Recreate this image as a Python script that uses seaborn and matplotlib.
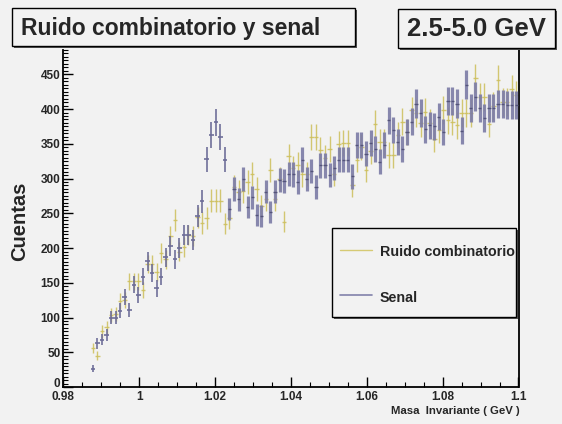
import numpy as np
import pandas as pd
import matplotlib
matplotlib.use("Agg")
import matplotlib.pyplot as plt
import seaborn as sns
from matplotlib.patches import Rectangle
from matplotlib.lines import Line2D
from matplotlib.ticker import MultipleLocator
from matplotlib.transforms import ScaledTranslation

# ---------------- data ----------------
bin_width = 0.0012
x_start = 0.98
first_bin = 6  # first filled bin index

ruido = [56, 45, 80, 86, 104, 105, 124, 125, 152, 152, 152, 140, 177, 177, 165, 193,
         184, 217, 240, 195, 201, 219, 217, 244, 236, 243, 268, 268, 268, 235, 243, 288,
         281, 282, 295, 307, 285, 260, 270, 312, 270, 300, 238, 332, 315, 320, 306, 307,
         360, 360, 341, 330, 343, 307, 350, 351, 351, 291, 327, 345, 312, 340, 379, 353,
         353, 334, 334, 363, 382, 367, 398, 394, 380, 396, 380, 357, 370, 399, 384, 382,
         377, 394, 394, 394, 444, 417, 417, 379, 405, 442, 410, 410, 429, 420]

senal = [26, 63, 68, 75, 100, 100, 110, 130, 111, 147, 132, 159, 181, 164, 142, 159,
         187, 203, 184, 200, 219, 219, 211, 246, 267, 328, 363, 381, 360, 327, 256, 285,
         270, 299, 259, 273, 248, 246, 281, 252, 281, 298, 296, 307, 306, 295, 327, 300,
         311, 288, 319, 319, 305, 315, 327, 327, 327, 303, 348, 348, 336, 351, 343, 324,
         348, 384, 370, 353, 343, 367, 382, 408, 394, 371, 377, 375, 389, 367, 412, 412,
         408, 369, 435, 402, 418, 401, 387, 401, 401, 407, 407, 406, 406, 406]

y_ticks = [0, 50, 100, 150, 200, 250, 300, 350, 400, 450]
x_ticks = [0.98, 1.00, 1.02, 1.04, 1.06, 1.08, 1.10]
x_tick_labels = ["0.98", "1", "1.02", "1.04", "1.06", "1.08", "1.1"]

title_left = "Ruido combinatorio y senal"
title_right = "2.5-5.0 GeV"
series_names = ["Ruido combinatorio", "Senal"]

idx = np.arange(first_bin, first_bin + len(ruido))
mass = x_start + bin_width * (idx + 0.5)
df = pd.DataFrame({"masa": mass, "ruido": ruido, "senal": senal})
df["err_r"] = np.sqrt(df["ruido"])
df["err_s"] = np.sqrt(df["senal"])

# ---------------- style ----------------
sns.set_theme(style="ticks")
bg = "#f2f2f2"
regular = ["Liberation Sans", "DejaVu Sans"]
plt.rcParams["font.family"] = regular
plt.rcParams["font.weight"] = "bold"

W, H = 562, 424
fig = plt.figure(figsize=(W / 100, H / 100), dpi=100, facecolor=bg)

def fx(px):
    return px / W

def fy(py):
    return 1 - py / H

ax_l, ax_r, ax_b, ax_t = 63.3, 518.5, 387, 50
ax = fig.add_axes([fx(ax_l), fy(ax_b), fx(ax_r - ax_l), fy(ax_t) - fy(ax_b)])
ax.set_facecolor(bg)

yellow = "#cdbf5a"
blue_thin = "#6c6c98"
blue_thick = "#7c7ca6"

ax.errorbar(df["masa"], df["ruido"], xerr=bin_width / 2, yerr=df["err_r"], fmt="none",
            ecolor=yellow, elinewidth=1.0, alpha=0.85, zorder=2)

left = df[df["masa"] < 1.023]
right = df[df["masa"] >= 1.023]
ax.errorbar(left["masa"], left["senal"], xerr=bin_width / 2, yerr=left["err_s"], fmt="none",
            ecolor=blue_thin, elinewidth=1.3, alpha=0.9, zorder=3)
ax.errorbar(right["masa"], right["senal"], yerr=right["err_s"], fmt="none",
            ecolor=blue_thick, elinewidth=2.3, alpha=0.9, zorder=3)
ax.errorbar(right["masa"], right["senal"], xerr=bin_width * 0.35, fmt="none",
            ecolor="#4f4f75", elinewidth=1.0, alpha=0.9, zorder=4)

ax.set_xlim(0.98, 1.1)
ax.set_ylim(0, 485)
ax.set_xticks(x_ticks)
ax.set_xticklabels(x_tick_labels)
ax.set_yticks(y_ticks)
ax.xaxis.set_minor_locator(MultipleLocator(0.005))
ax.yaxis.set_minor_locator(MultipleLocator(5))
ax.tick_params(axis="both", which="major", direction="in", length=7, width=1.0,
               color="black", labelsize=8.5, pad=2)
ax.tick_params(axis="x", which="major", pad=3)
ax.tick_params(axis="both", which="minor", direction="in", length=3.5, width=0.8, color="black")
ax.tick_params(axis="y", which="both", right=False)
ax.tick_params(axis="x", which="both", top=False)
for lab in ax.get_xticklabels() + ax.get_yticklabels():
    lab.set_fontweight("bold")
# lift the "0" label a little so it does not collide with "0.98"
ylabs = ax.get_yticklabels()
ylabs[0].set_transform(ylabs[0].get_transform() + ScaledTranslation(0, 3 / 72, fig.dpi_scale_trans))

ax.spines["top"].set_visible(False)
for s in ["left", "bottom", "right"]:
    ax.spines[s].set_linewidth(1.3)
    ax.spines[s].set_color("black")

# axis labels
fig.text(fx(20), fy(221), "Cuentas", rotation=90, ha="center", va="center",
         fontsize=14.5, fontweight="bold")
fig.text(fx(520), fy(411), "Masa  Invariante ( GeV )", ha="right", va="center",
         fontsize=8.2, fontweight="bold")

# title boxes with shadow
def box(x0, y0, x1, y1, text=None, fs=0, tx=None):
    sh = Rectangle((fx(x0 + 2), fy(y1 + 2)), fx(x1 - x0), fy(y0) - fy(y1),
                   transform=fig.transFigure, facecolor="#555555", edgecolor="none", zorder=9)
    r = Rectangle((fx(x0), fy(y1)), fx(x1 - x0), fy(y0) - fy(y1),
                  transform=fig.transFigure, facecolor=bg, edgecolor="black", linewidth=1.0, zorder=10)
    fig.add_artist(sh)
    fig.add_artist(r)
    if text:
        cx = tx if tx is not None else (x0 + x1) / 2
        fig.text(fx(cx), fy((y0 + y1) / 2 + 1), text, ha="center", va="center",
                 fontsize=fs, fontweight="bold", zorder=11)

box(12, 8, 355, 46, title_left, 16.5, tx=171)
box(398, 9, 555, 48, title_right, 18.5)

# legend box
box(332, 228, 516, 317)
fig.add_artist(Line2D([fx(340), fx(372)], [fy(250), fy(250)], transform=fig.transFigure,
                      color="#d6ca74", linewidth=1.0, zorder=12))
fig.add_artist(Line2D([fx(340), fx(372)], [fy(295), fy(295)], transform=fig.transFigure,
                      color="#8282aa", linewidth=1.2, zorder=12))
fig.text(fx(380), fy(252), series_names[0], ha="left", va="center", fontsize=10.3,
         fontweight="bold", zorder=12)
fig.text(fx(380), fy(298), series_names[1], ha="left", va="center", fontsize=10.3,
         fontweight="bold", zorder=12)

fig.savefig("out.png", dpi=100, facecolor=bg)
